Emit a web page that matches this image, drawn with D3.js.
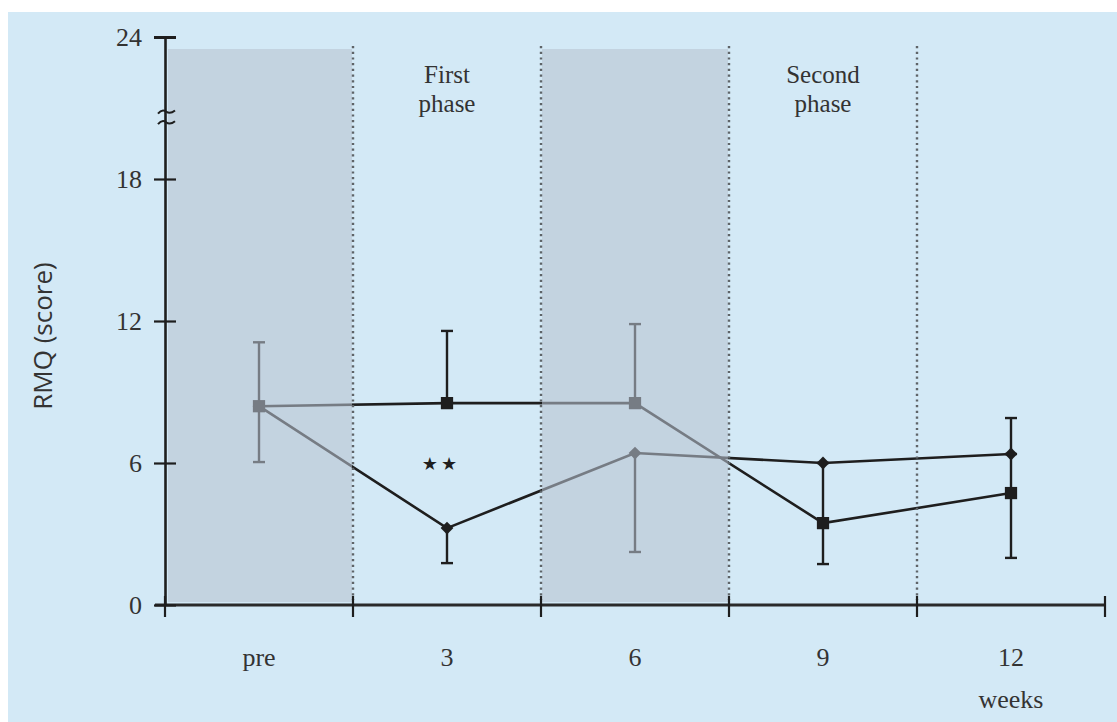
<!DOCTYPE html>
<html>
<head>
<meta charset="utf-8">
<script src="https://cdn.jsdelivr.net/npm/d3@7"></script>
<style>
  body { margin: 0; background: #fff; }
  svg { display: block; }
</style>
</head>
<body>
<svg id="main" width="1117" height="722"></svg>
<script>
// categories and tick labels
var weeks = ["pre", "3", "6", "9", "12"]
var yTicks = [0, 6, 12, 18, 24]
var treatmentBands = ["pre", "6"]
var phaseLabels = [["First", "phase"], ["Second", "phase"]]
var phaseAt = ["3", "9"]

// square series (mean, whisker low end, whisker high end)
var sqMean = [8.4, 8.53, 8.53, 3.46, 4.73]
var sqLow = [8.4, 8.53, 8.53, 1.73, 1.99]
var sqHigh = [11.1, 11.58, 11.87, 6.0, 6.38]

// diamond series
var dmMean = [8.4, 3.25, 6.42, 6.0, 6.38]
var dmLow = [6.04, 1.77, 2.24, 6.0, 6.38]
var dmHigh = [8.4, 3.25, 6.42, 6.0, 7.9]

var svg = d3.select('#main')
var ink = "#1e1e1e"
var serif = "'Liberation Serif', 'Times New Roman', serif"

svg.append('rect')
    .attr('x', 8).attr('y', 12)
    .attr('width', 1109).attr('height', 710)
    .attr('fill', '#d3e9f6')

var x = d3.scaleBand().domain(weeks).range([165, 1105]).paddingInner(0).paddingOuter(0)
var y = d3.scaleLinear().domain([0, 24]).range([605, 37])
var cx = function(w) { return x(w) + x.bandwidth() / 2 }

function series(mean, low, high, shape) {
    var pts = weeks.map(function(w, i) {
        return { w: w, v: mean[i], lo: low[i], hi: high[i] }
    })
    var g = svg.append('g')
    g.append('path')
        .datum(pts)
        .attr('fill', 'none')
        .attr('stroke', ink)
        .attr('stroke-width', 2.6)
        .attr('d', d3.line().x(function(d) { return cx(d.w) }).y(function(d) { return y(d.v) }))
    pts.forEach(function(d) {
        [d.lo, d.hi].forEach(function(end) {
            if (end === d.v) return
            g.append('line')
                .attr('x1', cx(d.w)).attr('x2', cx(d.w))
                .attr('y1', y(d.v)).attr('y2', y(end))
                .attr('stroke', ink).attr('stroke-width', 2.4)
            g.append('line')
                .attr('x1', cx(d.w) - 6).attr('x2', cx(d.w) + 6)
                .attr('y1', y(end)).attr('y2', y(end))
                .attr('stroke', ink).attr('stroke-width', 2.4)
        })
    })
    var diamond = shape === 'diamond'
    g.selectAll('path.mark').data(pts).enter().append('path')
        .attr('class', 'mark')
        .attr('fill', ink)
        .attr('transform', function(d) {
            return 'translate(' + cx(d.w) + ',' + y(d.v) + ')' + (diamond ? ' rotate(45)' : '')
        })
        .attr('d', d3.symbol().type(d3.symbolSquare).size(diamond ? 82 : 150))
}

series(dmMean, dmLow, dmHigh, 'diamond')
series(sqMean, sqLow, sqHigh, 'square')

// shaded weeks: translucent overlay, lines under it turn grey
svg.selectAll('rect.band').data(treatmentBands).enter().append('rect')
    .attr('class', 'band')
    .attr('x', function(d) { return x(d) + (d === weeks[0] ? 3 : 1) })
    .attr('y', 49)
    .attr('width', function(d) { return x.bandwidth() - (d === weeks[0] ? 4 : 2) })
    .attr('height', 553)
    .attr('fill', 'rgb(184,195,209)')
    .attr('opacity', 0.575)

// dotted separators
svg.selectAll('line.sep').data(weeks.slice(1)).enter().append('line')
    .attr('class', 'sep')
    .attr('x1', function(d) { return x(d) }).attr('x2', function(d) { return x(d) })
    .attr('y1', 46).attr('y2', 600)
    .attr('stroke', '#5f6468')
    .attr('stroke-width', 2.4)
    .attr('stroke-dasharray', '2.2,3.5')

// stars at week 3
svg.append('text')
    .attr('x', cx("3") - 6).attr('y', y(6) + 7)
    .attr('text-anchor', 'middle')
    .attr('font-family', "'DejaVu Sans', sans-serif")
    .attr('font-size', 18)
    .attr('fill', ink)
    .attr('letter-spacing', 3)
    .text('★★')

// phase titles
phaseLabels.forEach(function(lines, i) {
    var t = svg.append('text')
        .attr('text-anchor', 'middle')
        .attr('font-family', serif)
        .attr('font-size', 25)
        .attr('fill', '#333')
    lines.forEach(function(s, j) {
        t.append('tspan').attr('x', cx(phaseAt[i])).attr('y', 83 + j * 29).text(s)
    })
})

// x axis
var xAxis = svg.append('g').attr('transform', 'translate(0,' + y(0) + ')')
xAxis.append('line')
    .attr('x1', 155).attr('x2', 1105)
    .attr('stroke', '#2a2a2a').attr('stroke-width', 3.2)
xAxis.selectAll('line.tk').data(weeks.concat(['end'])).enter().append('line')
    .attr('class', 'tk')
    .attr('x1', function(d) { return d === 'end' ? 1105 : x(d) })
    .attr('x2', function(d) { return d === 'end' ? 1105 : x(d) })
    .attr('y1', -9).attr('y2', 12)
    .attr('stroke', '#1e1e1e').attr('stroke-width', 2.2)
xAxis.selectAll('text').data(weeks).enter().append('text')
    .attr('x', function(d) { return cx(d) })
    .attr('y', 61)
    .attr('text-anchor', 'middle')
    .attr('font-family', serif)
    .attr('font-size', 26)
    .attr('fill', '#333')
    .text(function(d) { return d })
xAxis.append('text')
    .attr('x', cx("12")).attr('y', 103)
    .attr('text-anchor', 'middle')
    .attr('font-family', serif)
    .attr('font-size', 26)
    .attr('fill', '#333')
    .text('weeks')

// y axis
var yAxis = svg.append('g')
    .attr('transform', 'translate(165,0)')
    .call(d3.axisLeft(y).tickValues(yTicks).tickSizeInner(11).tickSizeOuter(0).tickPadding(12))
yAxis.select('.domain').attr('stroke', '#1e1e1e').attr('stroke-width', 2.6)
yAxis.selectAll('.tick line')
    .attr('x1', 11)
    .attr('stroke', '#1e1e1e')
    .attr('stroke-width', function(d) { return d === 24 ? 3 : 2.2 })
yAxis.selectAll('.tick text')
    .attr('font-family', serif)
    .attr('font-size', 26)
    .attr('fill', '#333')
    .attr('dy', '0.34em')

// axis break marks
var breakAt = [20.85, 20.4]
svg.selectAll('path.brk').data(breakAt).enter().append('path')
    .attr('class', 'brk')
    .attr('transform', function(d) { return 'translate(165,' + y(d) + ')' })
    .attr('d', 'M-7,2 Q-3,-3 1,0 T10,-1')
    .attr('fill', 'none')
    .attr('stroke', '#1e1e1e')
    .attr('stroke-width', 2)

svg.append('text')
    .attr('transform', 'translate(52,336) rotate(-90)')
    .attr('text-anchor', 'middle')
    .attr('font-family', "'Open Sans', sans-serif")
    .attr('font-size', 26)
    .attr('fill', '#333')
    .text('RMQ (score)')
</script>
</body>
</html>
